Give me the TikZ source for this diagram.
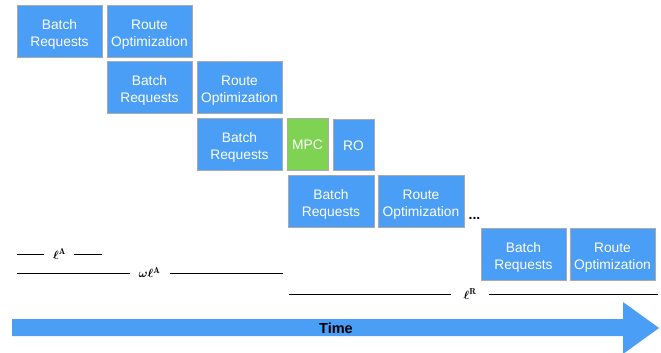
\documentclass[tikz,border=0pt]{standalone}
\usepackage{amsmath,amssymb}
\usepackage{bm}
\usepackage{fontspec}
\setsansfont{Liberation Sans}
\definecolor{boxblue}{RGB}{74,158,245}
\definecolor{boxgreen}{RGB}{126,211,82}
\definecolor{edgegray}{RGB}{170,170,170}
\newcommand{\tstrut}{\rule{0pt}{17pt}}
\begin{document}
\begin{tikzpicture}[x=1pt,y=-1pt,
  box/.style={fill=boxblue,draw=edgegray,line width=0.5pt,minimum width=85pt,minimum height=52pt,
    inner sep=0pt,text=white,align=center,font=\sffamily\fontsize{13.8}{17}\selectfont},
  smallbox/.style={box,minimum width=41pt},
  tick/.style={line width=0.9pt,black},
  lab/.style={inner sep=0pt,font=\fontsize{12.5}{13}\selectfont}]
\useasboundingbox (0,0) rectangle (661,353);
% row 1
\node[box] (b1) at (59.5,31) {\tstrut Batch\\Requests};
\node[box] (r1) at (149.5,31) {\tstrut Route\\Optimization};
% row 2
\node[box] (b2) at (149.5,87) {\tstrut Batch\\Requests};
\node[box] (r2) at (239.5,87) {\tstrut Route\\Optimization};
% row 3
\node[box] (b3) at (239.5,144) {\tstrut Batch\\Requests};
\node[smallbox,fill=boxgreen] (mpc) at (307.5,144) {\rule{0pt}{12pt}MPC};
\node[smallbox,minimum height=51pt] (ro) at (353.5,144.5) {\rule{0pt}{12pt}RO};
% row 4
\node[box,minimum width=86pt] (b4) at (331,201) {\tstrut Batch\\Requests};
\node[box,minimum width=86pt] (r4) at (421,201) {\tstrut Route\\Optimization};
\node[inner sep=0pt,font=\sffamily\bfseries\fontsize{14}{14}\selectfont,anchor=base] (dots) at (474.5,219) {...};
% row 5
\node[box] (b5) at (523.5,254) {\tstrut Batch\\Requests};
\node[box] (r5) at (612.5,254) {\tstrut Route\\Optimization};
% length markers
\coordinate (la1) at (17,254.5);
\coordinate (la2) at (102,254.5);
\node[lab] (la) at (59.5,254) {$\bm{\ell}^{\mathbf{A}}$};
\draw[tick] (la1) -- ([xshift=-9pt]la.west |- la1);
\draw[tick] ([xshift=8pt]la.east |- la2) -- (la2);
\coordinate (wa1) at (17,273);
\coordinate (wa2) at (283,273);
\node[lab] (wa) at (149.5,272.5) {$\bm{\omega\ell}^{\mathbf{A}}$};
\draw[tick] (wa1) -- ([xshift=-8pt]wa.west |- wa1);
\draw[tick] ([xshift=9pt]wa.east |- wa2) -- (wa2);
\coordinate (lr1) at (289,294.5);
\coordinate (lr2) at (658,294.5);
\node[lab] (lr) at (470,294) {$\bm{\ell}^{\mathbf{R}}$};
\draw[tick] (lr1) -- ([xshift=-12pt]lr.west |- lr1);
\draw[tick] ([xshift=12pt]lr.east |- lr2) -- (lr2);
% time arrow
\fill[boxblue] (12,319) -- (623,319) -- (623,302) -- (659,328) -- (623,354) -- (623,336) -- (12,336) -- cycle;
\node[inner sep=0pt,font=\sffamily\bfseries\fontsize{14.5}{14.5}\selectfont] (time) at (336,328) {Time};
\end{tikzpicture}
\end{document}
